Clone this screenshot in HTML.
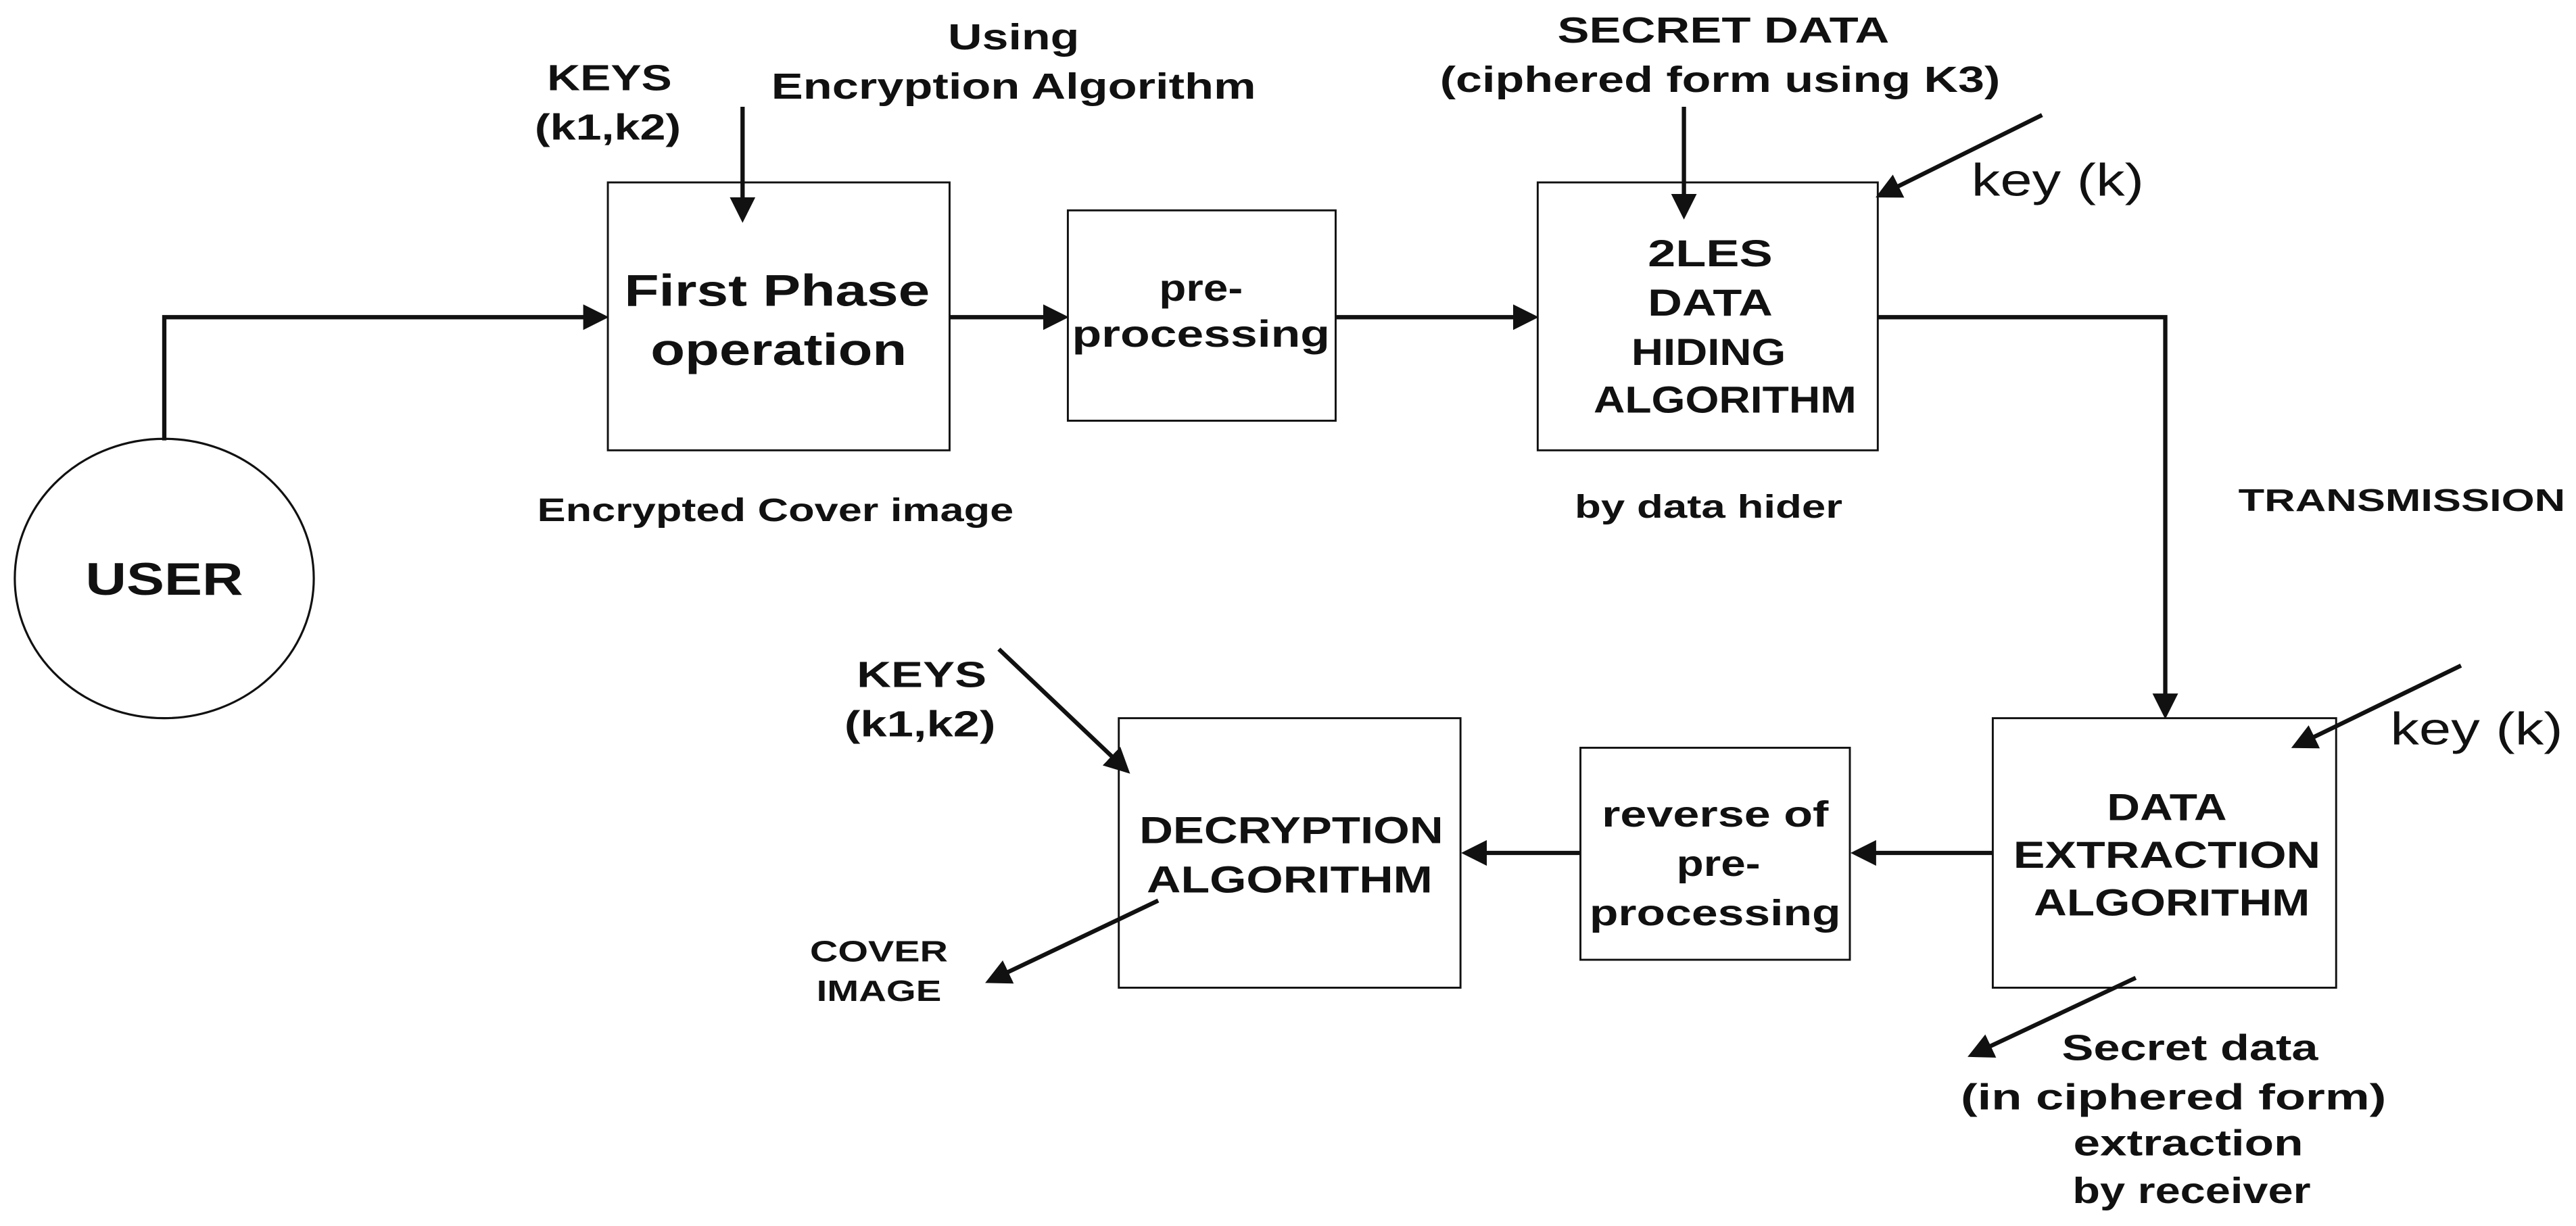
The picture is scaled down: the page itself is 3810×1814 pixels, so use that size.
<!DOCTYPE html>
<html><head><meta charset="utf-8"><style>
html,body{margin:0;padding:0;background:#fff;}
svg{display:block;}
text{font-family:"Liberation Sans",Arial,sans-serif;fill:#111;}
.b{font-weight:bold;}
</style></head><body>
<svg width="3810" height="1814" viewBox="0 0 1568 746" preserveAspectRatio="none" xmlns="http://www.w3.org/2000/svg">
<defs>
<marker id="a" markerWidth="6" markerHeight="6" refX="5" refY="3" orient="auto" markerUnits="strokeWidth">
<path d="M0,0 L6,3 L0,6 z" fill="#111"/></marker>
</defs>
<g stroke="#111" fill="none">
<ellipse cx="100" cy="352" rx="91" ry="85" stroke-width="1.3"/>
<rect x="370" y="111" width="208" height="163" stroke-width="1.2"/>
<rect x="650" y="128" width="163" height="128" stroke-width="1.2"/>
<rect x="936" y="111" width="207" height="163" stroke-width="1.2"/>
<rect x="1213" y="437" width="209" height="164" stroke-width="1.2"/>
<rect x="962" y="455" width="164" height="129" stroke-width="1.2"/>
<rect x="681" y="437" width="208" height="164" stroke-width="1.2"/>
<g stroke-width="2.6" marker-end="url(#a)">
<polyline points="100,268 100,193 368,193"/>
<line x1="452" y1="65" x2="452" y2="133"/>
<line x1="578" y1="193" x2="648" y2="193"/>
<line x1="813" y1="193" x2="934" y2="193"/>
<line x1="1025" y1="65" x2="1025" y2="131"/>
<line x1="1243" y1="70" x2="1144" y2="119"/>
<polyline points="1143,193 1318,193 1318,435"/>
<line x1="1498" y1="405" x2="1397" y2="454"/>
<line x1="1213" y1="519" x2="1129" y2="519"/>
<line x1="962" y1="519" x2="892" y2="519"/>
<line x1="608" y1="395" x2="686" y2="469"/>
<line x1="705" y1="548" x2="602" y2="597"/>
<line x1="1300" y1="595" x2="1200" y2="642"/>
</g>
</g>
<g class="b" text-anchor="middle" lengthAdjust="spacingAndGlyphs">
<text x="100" y="362" font-size="28" textLength="96" lengthAdjust="spacingAndGlyphs">USER</text>
<text x="473" y="186" font-size="27" textLength="186" lengthAdjust="spacingAndGlyphs">First Phase</text>
<text x="474" y="222" font-size="27" textLength="156" lengthAdjust="spacingAndGlyphs">operation</text>
<text x="731" y="183" font-size="23" textLength="51" lengthAdjust="spacingAndGlyphs">pre-</text>
<text x="731" y="211" font-size="23" textLength="157" lengthAdjust="spacingAndGlyphs">processing</text>
<text x="1041" y="162" font-size="23" textLength="76" lengthAdjust="spacingAndGlyphs">2LES</text>
<text x="1041" y="192" font-size="23" textLength="76" lengthAdjust="spacingAndGlyphs">DATA</text>
<text x="1040" y="222" font-size="23" textLength="94" lengthAdjust="spacingAndGlyphs">HIDING</text>
<text x="1050" y="251" font-size="23" textLength="160" lengthAdjust="spacingAndGlyphs">ALGORITHM</text>
<text x="1319" y="499" font-size="23" textLength="73" lengthAdjust="spacingAndGlyphs">DATA</text>
<text x="1319" y="528" font-size="23" textLength="187" lengthAdjust="spacingAndGlyphs">EXTRACTION</text>
<text x="1322" y="557" font-size="23" textLength="168" lengthAdjust="spacingAndGlyphs">ALGORITHM</text>
<text x="1044" y="503" font-size="22" textLength="138" lengthAdjust="spacingAndGlyphs">reverse of</text>
<text x="1046" y="533" font-size="22" textLength="51" lengthAdjust="spacingAndGlyphs">pre-</text>
<text x="1044" y="563" font-size="22" textLength="153" lengthAdjust="spacingAndGlyphs">processing</text>
<text x="786" y="513" font-size="23" textLength="185" lengthAdjust="spacingAndGlyphs">DECRYPTION</text>
<text x="785" y="543" font-size="23" textLength="174" lengthAdjust="spacingAndGlyphs">ALGORITHM</text>
<text x="371" y="55" font-size="22" textLength="76" lengthAdjust="spacingAndGlyphs">KEYS</text>
<text x="370" y="85" font-size="22" textLength="89" lengthAdjust="spacingAndGlyphs">(k1,k2)</text>
<text x="617" y="30" font-size="22" textLength="80" lengthAdjust="spacingAndGlyphs">Using</text>
<text x="617" y="60" font-size="22" textLength="295" lengthAdjust="spacingAndGlyphs">Encryption Algorithm</text>
<text x="1049" y="26" font-size="22" textLength="202" lengthAdjust="spacingAndGlyphs">SECRET DATA</text>
<text x="1047" y="56" font-size="22" textLength="341" lengthAdjust="spacingAndGlyphs">(ciphered form using K3)</text>
<text x="472" y="317" font-size="20" textLength="290" lengthAdjust="spacingAndGlyphs">Encrypted Cover image</text>
<text x="1040" y="315" font-size="20" textLength="163" lengthAdjust="spacingAndGlyphs">by data hider</text>
<text x="1462" y="311" font-size="19" textLength="199" lengthAdjust="spacingAndGlyphs">TRANSMISSION</text>
<text x="561" y="418" font-size="22" textLength="79" lengthAdjust="spacingAndGlyphs">KEYS</text>
<text x="560" y="448" font-size="22" textLength="92" lengthAdjust="spacingAndGlyphs">(k1,k2)</text>
<text x="535" y="585" font-size="18" textLength="84" lengthAdjust="spacingAndGlyphs">COVER</text>
<text x="535" y="609" font-size="18" textLength="76" lengthAdjust="spacingAndGlyphs">IMAGE</text>
<text x="1333" y="645" font-size="22" textLength="156" lengthAdjust="spacingAndGlyphs">Secret data</text>
<text x="1323" y="675" font-size="22" textLength="259" lengthAdjust="spacingAndGlyphs">(in ciphered form)</text>
<text x="1332" y="703" font-size="22" textLength="140" lengthAdjust="spacingAndGlyphs">extraction</text>
<text x="1334" y="732" font-size="22" textLength="145" lengthAdjust="spacingAndGlyphs">by receiver</text>
</g>
<text x="1200" y="119" font-size="28" textLength="105" lengthAdjust="spacingAndGlyphs">key (k)</text>
<text x="1455" y="453" font-size="28" textLength="105" lengthAdjust="spacingAndGlyphs">key (k)</text>
</svg>
</body></html>
